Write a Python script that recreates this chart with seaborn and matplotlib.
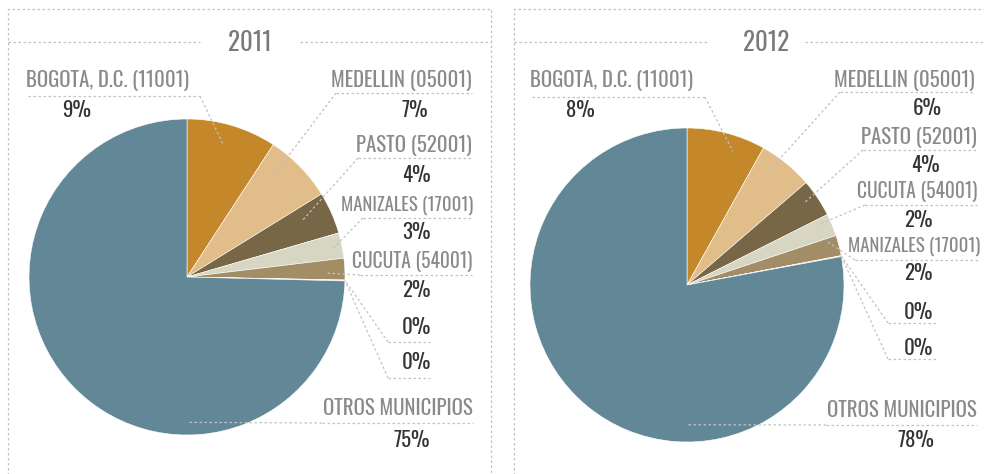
import numpy as np
import matplotlib
matplotlib.use("Agg")
import matplotlib.pyplot as plt
import seaborn as sns

sns.set_theme(style="white")
plt.rcParams['font.family'] = ['Oswald', 'League Gothic', 'IBM Plex Sans Condensed', 'DejaVu Sans']

# ---------------- data ----------------
years = ["2011", "2012"]
names_2011 = ["BOGOTA, D.C. (11001)", "MEDELLIN (05001)", "PASTO (52001)",
              "MANIZALES (17001)", "CUCUTA (54001)", "", "", "OTROS MUNICIPIOS"]
values_2011 = [9.2, 7.0, 4.3, 2.6, 2.2, 0.05, 0.05, 74.6]
names_2012 = ["BOGOTA, D.C. (11001)", "MEDELLIN (05001)", "PASTO (52001)",
              "CUCUTA (54001)", "MANIZALES (17001)", "", "", "OTROS MUNICIPIOS"]
values_2012 = [8.1, 5.6, 3.9, 2.3, 2.1, 0.05, 0.05, 77.9]

slice_colors = ["#C4882B", "#E0BD89", "#786746", "#D7D6C2", "#A38D66",
                "#A38D66", "#A38D66", "#628898"]

# ---------------- layout (pixels) ----------------
W, H = 984, 474
panels = [
    dict(x0=8, x1=491, title_x=250, gap=(200, 300), center=(187, 277), r=158,
         # (align, name_x, name_y, ul_y, ul_x0, ul_x1, pct_x, pct_y, anchor_t, anchor_r, name_size)
         labels=[("left", 26, 80, 96, 28, 200, 77, 110, 0.46, 0.87, 15),
                 ("right", 472, 80, 93, 336, 472, 415, 110, 0.29, 0.85, 15),
                 ("right", 472, 145, 158, 358, 472, 416, 175, 0.35, 0.82, 15),
                 ("right", 473, 205, 218, 363, 473, 416, 232, 0.60, 0.93, 13.5),
                 ("right", 472, 262, 275, 360, 472, 416, 290, 0.67, 0.89, 14),
                 ("right", 0, 0, 342, 388, 430, 416, 327, 0.5, 1.0, 15),
                 ("right", 0, 0, 378, 388, 430, 416, 362, 0.5, 1.0, 15),
                 ("right", 473, 408, 423, 322, 473, 412, 440, 0.33, 0.92, 15)]),
    dict(x0=514, x1=990, title_x=766, gap=(707, 805), center=(687, 285), r=157,
         labels=[("left", 530, 80, 97, 532, 705, 580, 110, 0.65, 0.90, 15),
                 ("right", 975, 80, 92, 840, 975, 927, 108, 0.32, 0.89, 15),
                 ("right", 977, 138, 150, 863, 977, 925, 165, 0.40, 0.92, 15),
                 ("right", 977, 192, 205, 865, 977, 918, 220, 0.24, 0.92, 14),
                 ("right", 980, 246, 260, 855, 980, 918, 273, 0.20, 0.94, 13.5),
                 ("right", 0, 0, 323, 888, 937, 918, 312, 0.5, 1.0, 15),
                 ("right", 0, 0, 359, 888, 937, 918, 348, 0.5, 1.0, 15),
                 ("right", 977, 410, 425, 826, 977, 916, 440, 0.36, 0.89, 15)]),
]

fig = plt.figure(figsize=(W / 100, H / 100), dpi=100)
ax = fig.add_axes([0, 0, 1, 1])
ax.set_xlim(0, W)
ax.set_ylim(H, 0)
ax.set_aspect("auto")
ax.axis("off")

dot = dict(color="#C2C2C2", lw=0.9, ls=(0, (2, 2)))
name_col = "#8A8A8A"
pct_col = "#333333"

for year, names, values, p in zip(years, [names_2011, names_2012],
                                  [values_2011, values_2012], panels):
    # panel border
    ax.plot([p["x0"], p["x0"], p["x1"], p["x1"]], [H + 5, 9, 9, H + 5], **dot)
    ax.plot([p["x0"], p["gap"][0]], [42, 42], **dot)
    ax.plot([p["gap"][1], p["x1"]], [42, 42], **dot)
    ax.text(p["title_x"], 43, year, ha="center", va="center", fontsize=18,
            color="#7A7A7A")

    # y axis inverted: start 270 + counterclock gives visual clockwise from top
    wedges, _ = ax.pie(values, colors=slice_colors, startangle=270,
                       counterclock=True, center=p["center"], radius=p["r"],
                       frame=True, wedgeprops=dict(edgecolor="white", linewidth=0.4))
    cx, cy = p["center"]
    for w, name, v, lab in zip(wedges, names, values, p["labels"]):
        align, nx, ny, uly, ux0, ux1, px, py, t, rf, fs = lab
        ang = np.deg2rad(w.theta1 + t * (w.theta2 - w.theta1))
        axp = cx + p["r"] * rf * np.cos(ang)
        ayp = cy + p["r"] * rf * np.sin(ang)
        lx = ux1 if align == "left" else ux0
        ax.plot([ux0, ux1], [uly, uly], **dot)
        ax.plot([lx, axp], [uly, ayp], **dot)
        if name:
            ax.text(nx, ny, name, ha=align, va="center", fontsize=fs,
                    color=name_col)
        ax.text(px, py, f"{int(v + 0.5)}%", ha="center", va="center",
                fontsize=15, color=pct_col, fontweight="light")

ax.set_xlim(0, W)
ax.set_ylim(H, 0)
fig.savefig("out.png", dpi=100, facecolor="white")
